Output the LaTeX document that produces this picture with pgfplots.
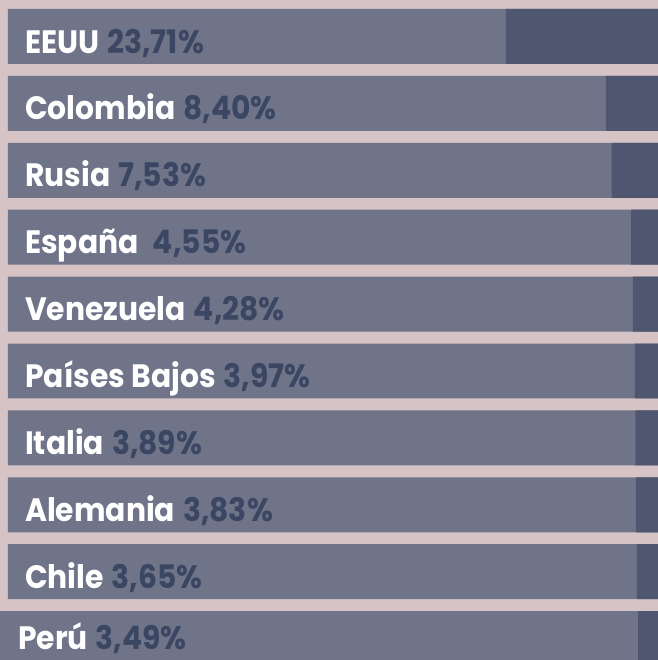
\documentclass[border=0pt]{standalone}
\usepackage{pgfplots}
\pgfplotsset{compat=1.18}
\usepackage{fontspec}
\setmainfont{Poppins}[BoldFont={* Bold}, FakeStretch=0.92]
\definecolor{pinkbg}{RGB}{213,195,198}
\definecolor{lightbar}{RGB}{111,116,136}
\definecolor{darkbar}{RGB}{79,87,112}
\definecolor{pcttext}{RGB}{58,70,98}
\newcommand{\lab}[2]{\textbf{\color{white}#1} \textbf{\color{pcttext}#2}}
\begin{document}
\begin{tikzpicture}
\fill[pinkbg] (0,0) rectangle (658bp,660bp);
\useasboundingbox (0,0) rectangle (658bp,660bp);
\begin{axis}[
  at={(0,0)}, anchor=south west,
  scale only axis, width=658bp, height=660bp,
  hide axis,
  x dir=reverse, y dir=reverse,
  xmin=0.43, xmax=101.2,
  ymin=-0.5456, ymax=9.320,
  xbar, bar width=0.822, bar shift=0pt,
  clip=true,
]
\addplot[fill=lightbar, draw=none] coordinates {
 (100,0) (100,1) (100,2) (100,3) (100,4) (100,5) (100,6) (100,7) (100,8) (102,9)};
\addplot[fill=darkbar, draw=none] coordinates {
 (23.71,0) (8.40,1) (7.53,2) (4.55,3) (4.28,4) (3.97,5) (3.89,6) (3.83,7) (3.65,8) (3.49,9)};
\begin{scope}[font=\fontsize{32.5}{34}\selectfont]
\node[anchor=base west, inner sep=0pt] at (axis cs:97.37,0.247) {\lab{EEUU}{23,71\%}};
\node[anchor=base west, inner sep=0pt] at (axis cs:97.37,1.247) {\lab{Colombia}{8,40\%}};
\node[anchor=base west, inner sep=0pt] at (axis cs:97.37,2.247) {\lab{Rusia}{7,53\%}};
\node[anchor=base west, inner sep=0pt] at (axis cs:97.37,3.247) {\lab{España\ }{4,55\%}};
\node[anchor=base west, inner sep=0pt] at (axis cs:97.37,4.247) {\lab{Venezuela}{4,28\%}};
\node[anchor=base west, inner sep=0pt] at (axis cs:97.37,5.247) {\lab{Países Bajos}{3,97\%}};
\node[anchor=base west, inner sep=0pt] at (axis cs:97.37,6.247) {\lab{Italia}{3,89\%}};
\node[anchor=base west, inner sep=0pt] at (axis cs:97.37,7.247) {\lab{Alemania}{3,83\%}};
\node[anchor=base west, inner sep=0pt] at (axis cs:97.37,8.247) {\lab{Chile}{3,65\%}};
\node[anchor=base west, inner sep=0pt] at (axis cs:98.44,9.17) {\lab{Perú}{3,49\%}};
\end{scope}
\end{axis}
\end{tikzpicture}
\end{document}
